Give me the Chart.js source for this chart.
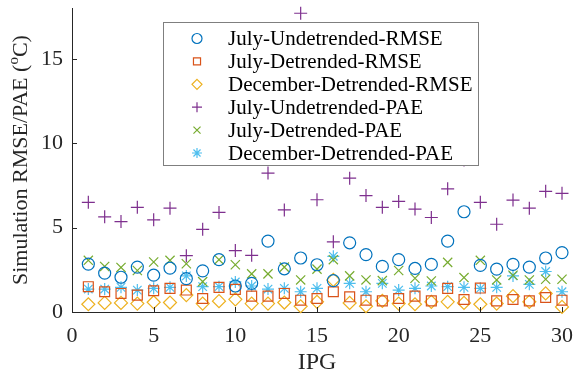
<!DOCTYPE html>
<html><head><meta charset="utf-8">
<script src="https://cdn.jsdelivr.net/npm/chart.js@4/dist/chart.umd.min.js"></script>
<style>html,body{margin:0;padding:0;background:#fff;overflow:hidden}</style>
</head><body>
<canvas id="c" width="576" height="376"></canvas>
<script>
const ipg = [1,2,3,4,5,6,7,8,9,10,11,12,13,14,15,16,17,18,19,20,21,22,23,24,25,26,27,28,29,30];
const julyUndetrendedRMSE = [2.84,2.3,2.06,2.66,2.18,2.6,1.98,2.44,3.1,1.54,1.7,4.2,2.56,3.2,2.8,1.86,4.1,3.4,2.7,3.1,2.58,2.82,4.2,5.94,2.76,2.54,2.82,2.66,3.2,3.52];
const julyDetrendedRMSE = [1.5,1.2,1.1,1.0,1.26,1.4,1.3,0.8,1.46,1.34,0.94,0.94,1.1,0.7,0.8,1.2,0.9,0.7,0.66,0.8,0.94,0.66,1.4,0.74,1.42,0.66,0.74,0.66,0.86,0.7];
const decemberDetrendedRMSE = [0.46,0.54,0.54,0.5,0.58,0.56,1.0,0.5,0.64,0.75,0.5,0.5,0.56,0.34,0.6,1.9,0.54,0.34,0.66,0.5,0.46,0.6,0.6,0.54,0.46,0.5,0.94,0.6,1.1,0.3];
const julyUndetrendedPAE = [6.5,5.64,5.36,6.2,5.46,6.15,3.34,4.9,5.9,3.64,3.36,8.23,6.05,17.7,6.65,4.16,7.93,6.9,6.2,6.55,6.1,5.6,7.3,9.0,6.5,5.2,6.63,6.15,7.15,7.03];
const julyDetrendedPAE = [3.06,2.7,2.64,2.46,2.96,3.06,2.86,1.8,3.1,2.8,2.26,2.26,2.66,1.9,2.54,3.1,2.14,1.9,1.86,2.46,2.0,1.84,2.94,2.04,3.06,1.9,2.18,1.9,1.94,1.94];
const decemberDetrendedPAE = [1.36,1.36,1.46,1.3,1.4,1.46,2.14,1.5,1.5,1.78,1.54,1.36,1.4,1.2,1.4,3.3,1.7,1.2,1.7,1.3,1.4,1.54,1.5,1.46,1.4,1.46,2.14,1.64,2.4,1.2];
const xTicks = [0,5,10,15,20,25,30];
const yTicks = [0,5,10,15];
const seriesNames = ['July-Undetrended-RMSE','July-Detrended-RMSE','December-Detrended-RMSE','July-Undetrended-PAE','July-Detrended-PAE','December-Detrended-PAE'];

const FONT = 'Liberation Serif, Times New Roman, serif';
const AX = '#262626';
const styles = [
  {c:'#0072BD', s:'circle', r:6},
  {c:'#D95319', s:'rect', r:7},
  {c:'#EDB120', s:'rectRot', r:6.5},
  {c:'#7E2F8E', s:'cross', r:6.5},
  {c:'#77AC30', s:'crossRot', r:6.5},
  {c:'#4DBEEE', s:'star', r:6}
];
const seriesData = [julyUndetrendedRMSE, julyDetrendedRMSE, decemberDetrendedRMSE, julyUndetrendedPAE, julyDetrendedPAE, decemberDetrendedPAE];

const datasets = seriesData.map((arr, k) => ({
  label: seriesNames[k],
  data: ipg.map((x, i) => ({x: x, y: arr[i]})),
  pointStyle: styles[k].s,
  pointRadius: styles[k].r,
  pointHoverRadius: styles[k].r,
  borderColor: styles[k].c,
  backgroundColor: 'rgba(0,0,0,0)',
  pointBorderWidth: 1.2,
  borderWidth: 1.2,
  showLine: false,
  clip: false
}));

function marker(ctx, style, x, y, r, color) {
  ctx.save();
  ctx.strokeStyle = color; ctx.lineWidth = 1.2;
  ctx.beginPath();
  if (style === 'circle') { ctx.arc(x, y, r, 0, Math.PI*2); }
  else if (style === 'rect') { const s = r*Math.SQRT1_2; ctx.rect(x-s, y-s, 2*s, 2*s); }
  else if (style === 'rectRot') { ctx.moveTo(x, y-r); ctx.lineTo(x+r, y); ctx.lineTo(x, y+r); ctx.lineTo(x-r, y); ctx.closePath(); }
  else if (style === 'cross') { ctx.moveTo(x-r, y); ctx.lineTo(x+r, y); ctx.moveTo(x, y-r); ctx.lineTo(x, y+r); }
  else if (style === 'crossRot') { const s = r*Math.SQRT1_2; ctx.moveTo(x-s, y-s); ctx.lineTo(x+s, y+s); ctx.moveTo(x-s, y+s); ctx.lineTo(x+s, y-s); }
  else if (style === 'star') { const s = r*Math.SQRT1_2; ctx.moveTo(x-r, y); ctx.lineTo(x+r, y); ctx.moveTo(x, y-r); ctx.lineTo(x, y+r); ctx.moveTo(x-s, y-s); ctx.lineTo(x+s, y+s); ctx.moveTo(x-s, y+s); ctx.lineTo(x+s, y-s); }
  ctx.stroke();
  ctx.restore();
}

const deco = {
  id: 'deco',
  afterDraw(chart) {
    const ctx = chart.ctx;
    const xs = chart.scales.x, ys = chart.scales.y;
    const a = chart.chartArea;
    ctx.save();
    // inward ticks
    ctx.strokeStyle = AX; ctx.lineWidth = 1;
    ctx.beginPath();
    xTicks.forEach(v => { const px = Math.round(xs.getPixelForValue(v)) + 0.5; ctx.moveTo(px, a.bottom); ctx.lineTo(px, a.bottom - 5); });
    yTicks.forEach(v => { const py = Math.round(ys.getPixelForValue(v)) + 0.5; ctx.moveTo(a.left, py); ctx.lineTo(a.left + 5, py); });
    ctx.stroke();
    // axis titles
    ctx.fillStyle = AX;
    ctx.font = '24px ' + FONT;
    ctx.textAlign = 'center'; ctx.textBaseline = 'middle';
    ctx.fillText('IPG', (a.left + a.right)/2, 363);
    ctx.save();
    ctx.translate(21, (a.top + a.bottom)/2);
    ctx.rotate(-Math.PI/2);
    const t1 = 'Simulation RMSE/PAE (', sup = 'o', t2 = 'C)';
    ctx.font = '22px ' + FONT;
    const w1 = ctx.measureText(t1).width, w3 = ctx.measureText(t2).width;
    ctx.font = '15px ' + FONT;
    const w2 = ctx.measureText(sup).width;
    const tot = w1 + w2 + w3;
    let x0 = -tot/2;
    ctx.textAlign = 'left';
    ctx.font = '22px ' + FONT; ctx.fillText(t1, x0, 0);
    ctx.font = '15px ' + FONT; ctx.fillText(sup, x0 + w1, -7);
    ctx.font = '22px ' + FONT; ctx.fillText(t2, x0 + w1 + w2, 0);
    ctx.restore();
    // legend box
    const bx = 163.5, by = 22.5, bw = 315, bh = 143;
    ctx.fillStyle = '#fff';
    ctx.fillRect(bx, by, bw, bh);
    ctx.strokeStyle = '#7f7f7f'; ctx.lineWidth = 1;
    ctx.strokeRect(bx, by, bw, bh);
    ctx.font = '21px ' + FONT; ctx.textAlign = 'left'; ctx.textBaseline = 'middle'; ctx.fillStyle = '#000';
    seriesNames.forEach((n, k) => {
      const yy = 38.5 + k*22.9;
      marker(ctx, styles[k].s, 197, yy, 5, styles[k].c);
      ctx.fillText(n, 228, yy + 1);
    });
    ctx.restore();
  }
};

new Chart(document.getElementById('c'), {
  type: 'scatter',
  data: { datasets },
  options: {
    responsive: false,
    animation: false,
    devicePixelRatio: 1,
    layout: { padding: { top: 8, right: 14, left: 0, bottom: 0 } },
    plugins: { legend: { display: false }, tooltip: { enabled: false } },
    scales: {
      x: {
        type: 'linear', min: 0, max: 30,
        afterBuildTicks: s => { s.ticks = xTicks.map(v => ({value: v})); },
        afterFit: s => { s.height = 64; s.paddingLeft = 0; s.paddingRight = 0; },
        grid: { display: true, drawOnChartArea: false, drawTicks: false },
        border: { display: true, color: AX, width: 1 },
        ticks: { color: AX, font: { family: FONT, size: 22 }, padding: 11, maxRotation: 0 }
      },
      y: {
        type: 'linear', min: 0, max: 18,
        afterBuildTicks: s => { s.ticks = yTicks.map(v => ({value: v})); },
        afterFit: s => { s.width = 72; s.paddingTop = 0; s.paddingBottom = 0; },
        grid: { display: true, drawOnChartArea: false, drawTicks: false },
        border: { display: true, color: AX, width: 1 },
        ticks: { color: AX, font: { family: FONT, size: 22 }, padding: 9 }
      }
    }
  },
  plugins: [deco]
});
</script>
</body></html>
